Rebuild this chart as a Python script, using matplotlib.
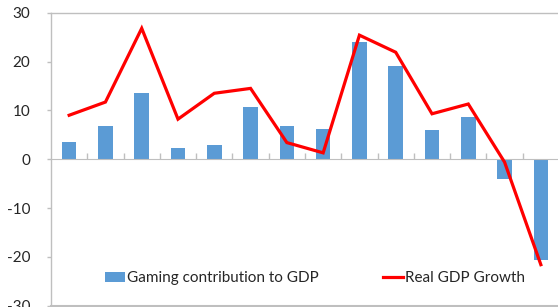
import matplotlib.pyplot as plt
import numpy as np

# Values
categories = list(range(14))
gaming = [3.5, 6.7, 13.6, 2.3, 2.9, 10.6, 6.8, 6.1, 24.0, 19.1, 5.9, 8.6, -4.1, -20.7]
real_gdp = [9.0, 11.7, 26.8, 8.2, 13.5, 14.5, 3.4, 1.3, 25.4, 21.9, 9.3, 11.3, -0.6, -21.6]
yticks = [30, 20, 10, 0, -10, -20, -30]

plt.rcParams['font.family'] = ['Lato', 'DejaVu Sans']
text_col = '#262626'
grey = '#bfbfbf'

W, H = 558, 307
fig = plt.figure(figsize=(W / 100, H / 100), dpi=100)
left, right = 51 / W, 559 / W
top, bottom = 1 - 12.7 / H, 1 - 305.7 / H
ax = fig.add_axes([left, bottom, right - left, top - bottom])

x = np.arange(len(categories))
bars = ax.bar(x, gaming, width=0.4, color='#5b9bd5', label='Gaming contribution to GDP', zorder=2)
line, = ax.plot(x, real_gdp, color='#ff0000', lw=2.3, label='Real GDP Growth', zorder=3,
                solid_joinstyle='miter')

ax.set_xlim(-0.5, len(categories) - 0.5)
ax.set_ylim(-30, 30)

# plot area border and the category axis on zero
for s in ['left', 'top', 'right']:
    ax.spines[s].set_color(grey)
    ax.spines[s].set_linewidth(1)
ax.spines['bottom'].set_position(('data', 0))
ax.spines['bottom'].set_color(grey)
ax.axhline(-30, color=grey, lw=1.5, clip_on=False)

ax.set_xticks(np.arange(0.5, len(categories) - 0.5, 1))
ax.set_xticklabels([])
ax.tick_params(axis='x', direction='in', length=4, color=grey, width=1)

ax.set_yticks(yticks)
ax.set_yticklabels([str(t) for t in yticks])
ax.tick_params(axis='y', direction='out', length=3, color=grey, width=1,
               labelsize=11, labelcolor=text_col, pad=12)

leg = ax.legend([bars, line], ['Gaming contribution to GDP', 'Real GDP Growth'],
                loc='center left', bbox_to_anchor=(105 / W, 1 - 278 / H),
                bbox_transform=fig.transFigure, ncol=2, frameon=False,
                fontsize=11, handlelength=1.3, handleheight=0.65,
                handletextpad=0.15, columnspacing=4.2, borderpad=0, borderaxespad=0)
for t in leg.get_texts():
    t.set_color(text_col)

fig.savefig('out.png', dpi=100)
